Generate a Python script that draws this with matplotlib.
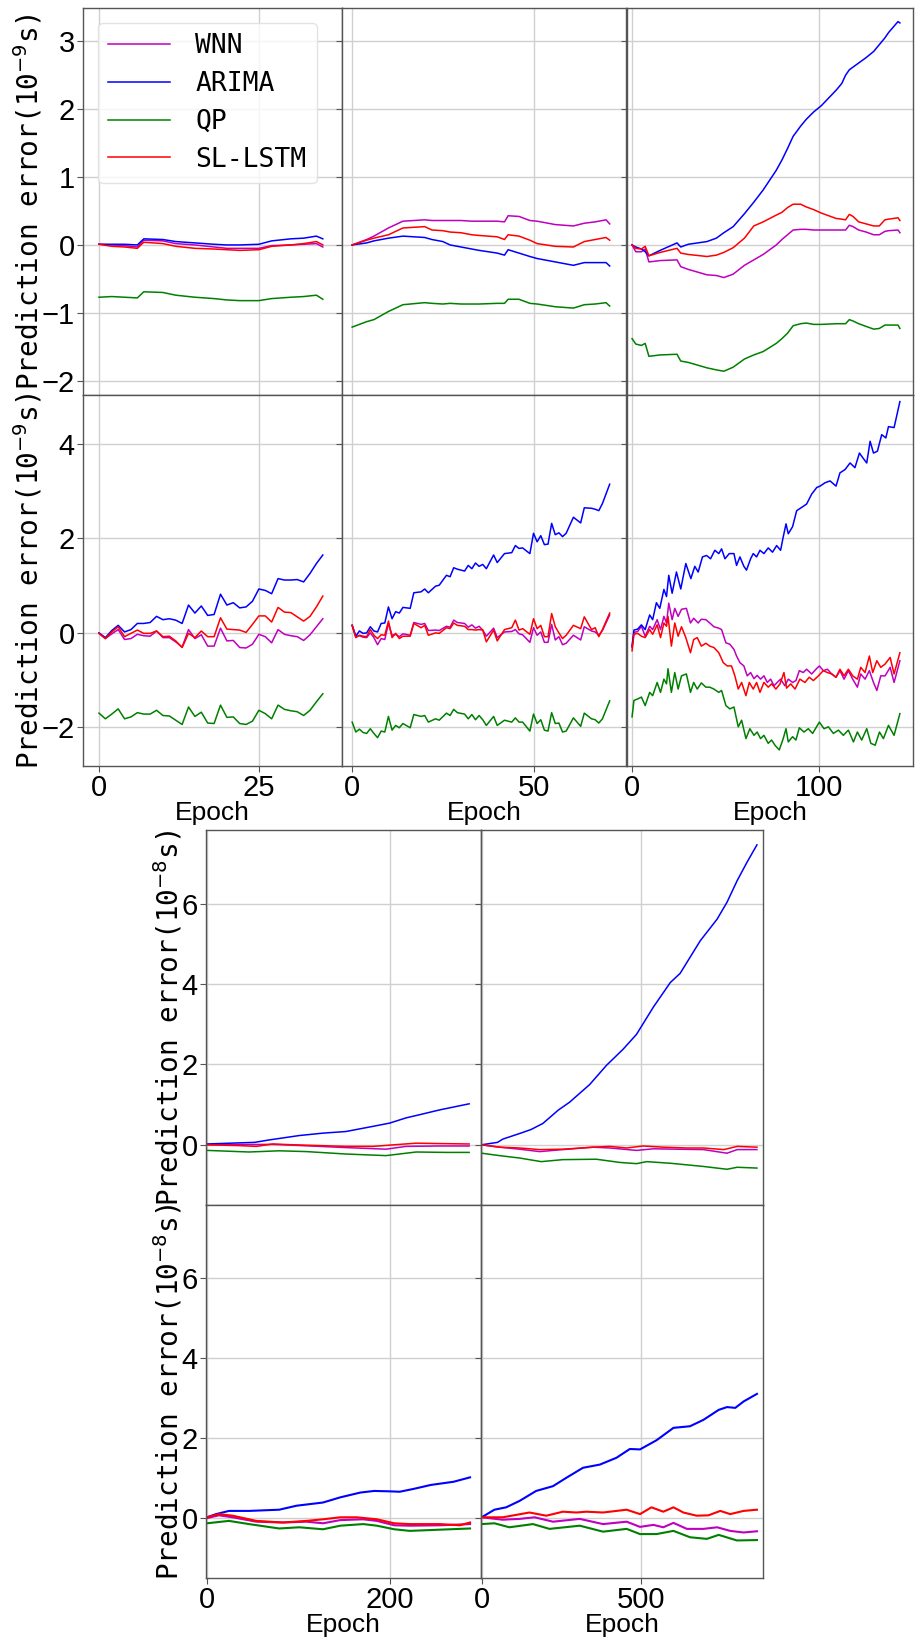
import matplotlib
matplotlib.use('Agg')
import matplotlib.pyplot as plt

plt.rcParams['font.family'] = ['Liberation Sans', 'DejaVu Sans']
plt.rcParams['mathtext.fontset'] = 'dejavusans'

names = ['WNN', 'ARIMA', 'QP', 'SL-LSTM']
colors = ['m', 'b', 'g', 'r']

# ---------- panel A (row 1, col 1) ----------
A_x = [0, 2, 4, 6, 7, 10, 12, 15, 18, 20, 22, 25, 27, 30, 32, 34, 35]
A_wnn = [0.01, 0.0, -0.01, -0.03, 0.07, 0.06, 0.02, 0.0, -0.03, -0.05, -0.05, -0.05, -0.01, 0.0, 0.01, 0.02, -0.03]
A_arima = [0.01, 0.01, 0.01, 0.0, 0.09, 0.08, 0.05, 0.03, 0.01, 0.0, 0.0, 0.01, 0.06, 0.09, 0.1, 0.13, 0.09]
A_qp = [-0.77, -0.76, -0.77, -0.78, -0.69, -0.70, -0.74, -0.77, -0.79, -0.81, -0.82, -0.82, -0.79, -0.77, -0.76, -0.74, -0.80]
A_lstm = [0.01, -0.02, -0.03, -0.05, 0.04, 0.02, -0.02, -0.05, -0.06, -0.07, -0.08, -0.07, -0.02, 0.0, 0.02, 0.05, 0.0]

# ---------- panel B (row 1, col 2) ----------
B_x = [0, 4, 6, 10, 14, 20, 22, 25, 27, 30, 33, 35, 40, 42, 43, 46, 49, 51, 56, 61, 64, 67, 70, 71]
B_wnn = [0, 0.08, 0.13, 0.25, 0.35, 0.37, 0.36, 0.36, 0.36, 0.36, 0.35, 0.35, 0.35, 0.34, 0.43, 0.42, 0.36, 0.35, 0.3, 0.28, 0.32, 0.34, 0.37, 0.31]
B_arima = [0, 0.03, 0.06, 0.1, 0.13, 0.11, 0.08, 0.05, 0.0, -0.03, -0.06, -0.08, -0.12, -0.15, -0.07, -0.12, -0.17, -0.2, -0.25, -0.3, -0.26, -0.26, -0.26, -0.31]
B_qp = [-1.21, -1.13, -1.1, -0.98, -0.88, -0.85, -0.86, -0.87, -0.86, -0.87, -0.87, -0.87, -0.86, -0.86, -0.8, -0.8, -0.86, -0.87, -0.91, -0.93, -0.88, -0.87, -0.85, -0.9]
B_lstm = [0, 0.07, 0.1, 0.15, 0.25, 0.27, 0.22, 0.21, 0.19, 0.18, 0.15, 0.14, 0.12, 0.08, 0.15, 0.13, 0.07, 0.02, -0.02, -0.03, 0.05, 0.08, 0.11, 0.07]

# ---------- panel C (row 1, col 3) ----------
C_x = [0, 2, 5, 7, 9, 15, 24, 26, 30, 40, 45, 49, 54, 60, 65, 70, 77, 80, 83, 86, 90, 93, 97, 101,
       109, 112, 114, 116, 118, 121, 125, 129, 132, 135, 137, 142, 143]
C_wnn = [0.0, -0.1, -0.1, -0.06, -0.25, -0.23, -0.22, -0.32, -0.36, -0.44, -0.45, -0.48, -0.43, -0.3, -0.22, -0.14,
         0.0, 0.08, 0.15, 0.22, 0.23, 0.23, 0.22, 0.22, 0.22, 0.22, 0.22, 0.29, 0.27, 0.22, 0.19, 0.15, 0.15, 0.2, 0.21, 0.22, 0.18]
C_arima = [0.0, -0.03, -0.06, -0.1, -0.16, -0.08, 0.03, -0.03, 0.01, 0.05, 0.1, 0.18, 0.27, 0.46, 0.63, 0.81,
           1.1, 1.25, 1.42, 1.6, 1.75, 1.85, 1.96, 2.05, 2.28, 2.38, 2.5, 2.58, 2.62, 2.68, 2.76, 2.85, 2.95, 3.05, 3.13, 3.29, 3.27]
C_qp = [-1.38, -1.46, -1.48, -1.45, -1.64, -1.62, -1.61, -1.71, -1.73, -1.81, -1.84, -1.86, -1.8, -1.68, -1.62, -1.57,
        -1.45, -1.38, -1.3, -1.19, -1.16, -1.15, -1.17, -1.17, -1.16, -1.16, -1.16, -1.1, -1.12, -1.16, -1.2, -1.24, -1.23, -1.18, -1.18, -1.18, -1.23]
C_lstm = [0.0, -0.05, -0.06, -0.02, -0.16, -0.11, -0.05, -0.12, -0.14, -0.17, -0.15, -0.11, -0.04, 0.1, 0.28, 0.34,
          0.44, 0.48, 0.55, 0.6, 0.6, 0.56, 0.52, 0.47, 0.39, 0.38, 0.37, 0.45, 0.42, 0.34, 0.31, 0.28, 0.28, 0.37, 0.38, 0.4, 0.36]

# ---------- panel D (row 2, col 1) ----------
D_x = list(range(36))
D_wnn = [-0.01, -0.12, -0.02, 0.07, -0.14, -0.12, -0.03, -0.06, -0.07, 0.04, -0.1, -0.1, -0.19, -0.3, 0.07, -0.12, -0.04, -0.28,
         -0.28, 0.1, -0.17, -0.16, -0.31, -0.32, -0.24, -0.03, -0.08, -0.21, 0.07, -0.03, -0.06, -0.08, -0.16, -0.04, 0.13, 0.3]
D_arima = [0.0, -0.1, 0.05, 0.16, 0.02, 0.07, 0.2, 0.2, 0.22, 0.35, 0.28, 0.3, 0.27, 0.2, 0.59, 0.42, 0.57, 0.37,
           0.39, 0.82, 0.59, 0.64, 0.53, 0.55, 0.67, 0.93, 0.9, 0.83, 1.15, 1.12, 1.12, 1.13, 1.08, 1.26, 1.47, 1.65]
D_qp = [-1.7, -1.82, -1.72, -1.61, -1.82, -1.78, -1.69, -1.72, -1.72, -1.64, -1.75, -1.76, -1.85, -1.94, -1.57, -1.77, -1.68, -1.91,
        -1.92, -1.53, -1.79, -1.78, -1.92, -1.94, -1.87, -1.64, -1.71, -1.82, -1.53, -1.62, -1.65, -1.67, -1.75, -1.64, -1.46, -1.29]
D_lstm = [-0.01, -0.12, 0.02, 0.13, -0.08, -0.01, 0.06, -0.01, -0.01, 0.04, -0.08, -0.07, -0.17, -0.31, -0.01, -0.1, 0.04, -0.08,
          -0.08, 0.32, 0.08, 0.07, 0.06, 0.01, 0.18, 0.36, 0.36, 0.23, 0.54, 0.44, 0.43, 0.34, 0.25, 0.35, 0.55, 0.78]

# ---------- panel E (row 2, col 2) ----------
E_x = [0, 1, 2, 3, 4, 5, 6, 7, 8, 9, 10, 11, 12, 13, 14, 16, 17, 19, 20, 21, 23, 24, 26, 27, 28, 29, 31, 32, 33, 34,
       35, 36, 37, 39, 40, 42, 44, 45, 46, 47, 49, 50, 51, 52, 53, 54, 55, 56, 57, 58, 59, 61, 63, 64, 66, 67, 68, 69, 71]
E_wnn = [0.16, -0.08, -0.06, -0.09, -0.1, 0.0, -0.1, -0.25, -0.12, -0.14, 0.2, -0.05, -0.03, -0.08, -0.02, -0.05, 0.22, 0.18,
         0.2, 0.05, 0.06, 0.05, 0.14, 0.12, 0.27, 0.22, 0.2, 0.12, 0.17, 0.1, 0.14, 0.06, -0.07, 0.1, -0.1, 0.02, 0.03, 0.07,
         -0.02, -0.04, -0.2, 0.11, -0.05, 0.02, -0.2, -0.2, 0.18, -0.15, -0.08, -0.25, -0.22, -0.05, -0.15, 0.13, 0.04, 0.02,
         -0.05, 0.05, 0.38]
E_arima = [0.16, -0.07, 0.04, -0.01, 0.0, 0.13, 0.04, 0.02, 0.2, 0.21, 0.55, 0.30, 0.45, 0.42, 0.54, 0.52, 0.85, 0.87,
           0.93, 0.85, 0.99, 1.01, 1.22, 1.19, 1.38, 1.35, 1.31, 1.43, 1.36, 1.48, 1.41, 1.45, 1.36, 1.65, 1.49, 1.68, 1.70,
           1.85, 1.79, 1.80, 1.68, 2.11, 1.93, 2.06, 1.87, 1.88, 2.32, 2.08, 2.12, 2.04, 2.11, 2.45, 2.33, 2.65, 2.64, 2.62,
           2.59, 2.74, 3.15]
E_qp = [-1.89, -2.1, -2.04, -2.11, -2.13, -2.03, -2.13, -2.22, -2.08, -2.1, -1.77, -2.06, -1.96, -2.01, -1.92, -2.01, -1.73,
        -1.77, -1.75, -1.89, -1.82, -1.85, -1.7, -1.75, -1.62, -1.69, -1.72, -1.82, -1.73, -1.84, -1.75, -1.84, -1.96, -1.77,
        -1.96, -1.85, -1.89, -1.8, -1.89, -1.89, -2.08, -1.72, -1.92, -1.84, -2.06, -2.08, -1.69, -1.92, -1.91, -2.1, -2.08,
        -1.8, -1.98, -1.7, -1.82, -1.84, -1.91, -1.82, -1.44]
E_lstm = [0.16, -0.1, -0.05, -0.07, -0.08, 0.07, -0.05, -0.12, -0.04, -0.05, 0.25, -0.1, -0.01, -0.12, -0.07, -0.07, 0.2,
          0.11, 0.16, -0.05, 0.0, -0.01, 0.11, 0.09, 0.21, 0.16, 0.14, 0.07, 0.07, 0.06, 0.07, 0.06, -0.19, 0.06, -0.17, 0.07,
          0.11, 0.27, 0.06, 0.09, -0.03, 0.3, 0.09, 0.16, -0.08, -0.08, 0.41, 0.13, 0.0, -0.12, -0.05, 0.16, 0.09, 0.34, 0.07,
          0.11, -0.08, 0.07, 0.42]

# ---------- panel F (row 2, col 3) ----------
F_x_arima = [0, 1, 3, 5, 7, 9.4, 11, 13, 14.8, 17, 18.4, 19.6, 21.4, 23.7, 26, 28.7, 31.4, 33.5, 35.3, 37.6, 39.8, 41.9,
             44.2, 46.3, 47.8, 49.6, 51.9, 54.4, 55.8, 57.6, 59.7, 61.1, 63.3, 64.7, 66.5, 68.3, 70.4, 72.7, 75, 77.2, 79.3,
             80.7, 82.2, 83.4, 85.7, 87.9, 90.6, 93.2, 95.9, 98.6, 100.4, 103, 105.7, 108.9, 111, 113.7, 116.4, 119, 121.4,
             123.2, 125.3, 127.1, 128.9, 131, 133.3, 135.5, 136.9, 139.9, 143]
F_arima = [-0.28, 0.06, 0.08, 0.17, 0.07, 0.38, 0.28, 0.64, 0.52, 0.92, 0.77, 1.22, 0.84, 1.29, 0.93, 1.47, 1.15, 1.41, 1.29,
           1.61, 1.64, 1.57, 1.75, 1.68, 1.78, 1.57, 1.68, 1.68, 1.43, 1.61, 1.41, 1.33, 1.57, 1.68, 1.61, 1.75, 1.68, 1.8,
           1.71, 1.85, 1.75, 2.03, 2.31, 2.1, 2.25, 2.59, 2.66, 2.73, 2.94, 3.08, 3.11, 3.18, 3.22, 3.11, 3.39, 3.46, 3.6,
           3.5, 3.81, 3.71, 3.6, 4.06, 3.81, 3.85, 4.2, 4.13, 4.37, 4.35, 4.9]
F_x_wnn = [0, 1, 3, 5, 7, 9.4, 11, 13.4, 15.2, 17, 18.4, 19.6, 21.4, 22.8, 24.6, 26.4, 29, 31.2, 32.9, 35.3, 37, 39.4, 41.5,
           43.7, 46.3, 47.8, 50.1, 52.2, 54.4, 55.8, 57.6, 59.7, 61.5, 63.3, 65.1, 66.8, 68.6, 70.4, 72.2, 74, 75.8, 77.5,
           79.3, 81.6, 83.4, 85.7, 87.5, 89.3, 91.4, 93.2, 95.9, 98.2, 100, 102.1, 104.3, 106.6, 108.9, 111, 113.2, 115.5,
           117.8, 120.3, 122.1, 124.4, 126.7, 128.9, 130.7, 132.8, 135.1, 137.8, 139.9, 143]
F_wnn = [-0.31, 0.01, 0.03, 0.14, -0.07, 0.14, 0.07, 0.28, 0.07, 0.35, 0.21, 0.63, 0.28, 0.52, 0.35, 0.5, 0.52, 0.21, 0.31,
         0.21, 0.29, 0.28, 0.21, 0.13, 0.1, 0.07, -0.21, -0.24, -0.35, -0.49, -0.63, -0.7, -0.91, -0.84, -0.97, -0.9, -0.98,
         -0.91, -1.05, -0.98, -1.12, -1.05, -0.98, -1.12, -0.98, -1.05, -1.01, -0.8, -0.84, -0.77, -0.87, -0.77, -0.7, -0.8,
         -0.77, -0.87, -0.94, -0.8, -0.98, -0.8, -0.98, -1.15, -0.87, -0.98, -0.8, -1.05, -1.22, -0.91, -0.91, -0.73, -1.05,
         -0.59]
F_x_lstm = [0, 1, 3, 5, 7, 9.4, 11, 13.4, 15.2, 17, 18.4, 19.2, 21, 22.8, 24.6, 26.4, 28.7, 31.2, 32.9, 34.8, 37, 39.4,
            41.5, 43.7, 46.3, 48.7, 50.8, 53.1, 54.9, 56.7, 58.5, 60.8, 62.6, 64.7, 66.5, 68.3, 70.4, 72.7, 74.5, 76.8, 79,
            81.1, 82.5, 84.7, 87, 89.6, 92.3, 94.6, 96.8, 99.5, 102.1, 104.3, 106.6, 108.9, 111, 113.2, 115.5, 117.8, 120.3,
            122.1, 124.4, 126.7, 128.5, 130.7, 132.8, 135.1, 137.8, 139.9, 143]
F_lstm = [-0.38, -0.03, -0.01, -0.07, -0.1, 0.07, -0.03, 0.17, -0.1, 0.21, 0.14, 0.35, -0.28, 0.21, -0.07, 0.13, -0.1,
          -0.42, -0.14, -0.1, -0.28, -0.22, -0.28, -0.31, -0.42, -0.63, -0.7, -0.7, -0.91, -1.19, -1.05, -1.33, -1.05, -1.19,
          -1.05, -1.26, -1.05, -1.15, -1.08, -1.19, -1.08, -0.84, -1.17, -1.08, -1.19, -0.98, -1.05, -0.94, -1.01, -0.91,
          -0.8, -0.84, -0.87, -0.94, -0.77, -0.91, -0.77, -0.91, -0.98, -0.73, -0.84, -0.49, -0.84, -0.59, -0.73, -0.66,
          -0.52, -0.87, -0.42]
F_x_qp = [0, 1, 3, 5, 7, 9.4, 11, 13.4, 15.2, 17, 18.4, 19.2, 21, 22.8, 24.6, 26.4, 29, 31.2, 32.9, 34.8, 37, 39.4, 41.5,
          43.7, 46.3, 47.8, 50.1, 52.2, 54.4, 56.7, 58.5, 60.8, 62.9, 65.1, 66.8, 68.6, 70.4, 72.7, 74.5, 76.3, 78.6, 80.7,
          82.2, 83.4, 85.7, 87.5, 89.3, 91.8, 94.1, 96.4, 100, 102.5, 104.8, 107.5, 110.2, 112.8, 115.5, 118.2, 120.3,
          122.6, 125.3, 127.5, 129.8, 132.1, 134.2, 136.9, 139.9, 143]
F_qp = [-1.78, -1.43, -1.4, -1.36, -1.54, -1.26, -1.33, -1.05, -1.26, -0.98, -1.08, -0.76, -1.26, -0.84, -1.19, -0.91,
        -0.87, -1.26, -1.05, -1.19, -1.06, -1.15, -1.15, -1.19, -1.26, -1.22, -1.54, -1.61, -1.57, -1.99, -1.85, -2.24,
        -2.03, -2.17, -2.1, -2.24, -2.17, -2.34, -2.27, -2.38, -2.48, -2.24, -2.03, -2.31, -2.2, -2.27, -2.01, -2.1, -2.03,
        -2.13, -1.89, -2.03, -1.99, -2.13, -2.06, -2.17, -2.06, -2.31, -2.1, -2.27, -2.03, -2.34, -2.38, -2.1, -2.24,
        -1.96, -2.17, -1.71]

# ---------- panel G (row 3, col 1) ----------
G_x_wnn = [0, 72, 94, 152, 196, 218, 255, 287]
G_wnn = [0.0, 0.01, -0.01, -0.07, -0.11, -0.04, -0.03, -0.03]
G_x_arima = [0, 52, 68, 101, 127, 152, 182, 200, 218, 233, 255, 287]
G_arima = [0.02, 0.06, 0.12, 0.23, 0.29, 0.33, 0.46, 0.54, 0.67, 0.75, 0.87, 1.02]
G_x_qp = [0, 46, 79, 109, 152, 196, 229, 262, 287]
G_qp = [-0.14, -0.18, -0.15, -0.17, -0.23, -0.27, -0.18, -0.19, -0.19]
G_x_lstm = [0, 35, 54, 72, 94, 152, 182, 205, 229, 255, 287]
G_lstm = [0.0, -0.02, -0.04, 0.02, 0.0, -0.04, -0.04, 0.0, 0.04, 0.03, 0.02]

# ---------- panel H (row 3, col 2) ----------
H_x_wnn = [0, 56, 119, 182, 255, 350, 402, 486, 539, 612, 696, 770, 802, 864]
H_wnn = [0, -0.06, -0.11, -0.17, -0.12, -0.06, -0.08, -0.14, -0.1, -0.11, -0.12, -0.21, -0.12, -0.12]
H_x_arima = [0, 50, 66, 119, 155, 192, 240, 276, 339, 392, 444, 486, 539, 592, 623, 686, 739, 770, 802, 833, 864]
H_arima = [0, 0.06, 0.14, 0.28, 0.38, 0.53, 0.86, 1.06, 1.5, 1.98, 2.38, 2.75, 3.43, 4.04, 4.27, 5.08, 5.62, 6.04, 6.58,
           7.04, 7.47]
H_x_qp = [0, 56, 119, 187, 255, 360, 434, 486, 518, 592, 644, 696, 770, 802, 864]
H_qp = [-0.21, -0.27, -0.33, -0.42, -0.37, -0.36, -0.44, -0.47, -0.42, -0.46, -0.5, -0.54, -0.61, -0.56, -0.58]
H_x_lstm = [0, 56, 119, 182, 255, 350, 402, 455, 507, 570, 644, 696, 760, 802, 864]
H_lstm = [0, -0.06, -0.08, -0.12, -0.11, -0.06, -0.04, -0.08, -0.03, -0.06, -0.08, -0.08, -0.12, -0.04, -0.06]

# ---------- panel I (row 4, col 1) ----------
I_x_wnn = [0, 13, 28, 54, 83, 109, 127, 146, 171, 186, 205, 222, 255, 288]
I_wnn = [0.0, 0.07, 0.02, -0.09, -0.11, -0.09, -0.13, -0.05, -0.03, -0.07, -0.18, -0.19, -0.18, -0.15]
I_x_arima = [0, 10, 24, 46, 79, 98, 127, 146, 168, 183, 200, 211, 226, 245, 270, 288]
I_arima = [0.02, 0.1, 0.18, 0.18, 0.21, 0.31, 0.39, 0.52, 0.64, 0.68, 0.67, 0.66, 0.73, 0.83, 0.91, 1.02]
I_x_qp = [0, 24, 46, 79, 101, 127, 146, 171, 186, 205, 222, 255, 288]
I_qp = [-0.13, -0.07, -0.15, -0.26, -0.23, -0.28, -0.19, -0.15, -0.19, -0.28, -0.32, -0.29, -0.26]
I_x_lstm = [0, 13, 28, 54, 83, 109, 127, 146, 164, 186, 205, 222, 255, 277, 288]
I_lstm = [0.02, 0.1, 0.06, -0.07, -0.11, -0.07, -0.03, 0.02, 0.02, -0.03, -0.13, -0.15, -0.15, -0.18, -0.11]

# ---------- panel J (row 4, col 2) ----------
J_x_wnn = [0, 66, 119, 166, 224, 308, 381, 455, 497, 539, 570, 602, 644, 696, 739, 780, 822, 864]
J_wnn = [0.02, -0.04, -0.02, 0.02, -0.09, -0.02, -0.15, -0.09, -0.22, -0.17, -0.23, -0.12, -0.27, -0.27, -0.23, -0.32,
         -0.36, -0.33]
J_x_arima = [0, 40, 77, 119, 171, 224, 266, 318, 371, 423, 465, 497, 549, 602, 654, 696, 744, 770, 796, 822, 864]
J_arima = [0.02, 0.21, 0.27, 0.43, 0.68, 0.80, 1.01, 1.26, 1.34, 1.51, 1.73, 1.72, 1.95, 2.26, 2.3, 2.46, 2.71, 2.78,
           2.76, 2.92, 3.11]
J_x_qp = [0, 40, 87, 161, 213, 308, 381, 455, 497, 549, 602, 654, 707, 744, 801, 864]
J_qp = [-0.15, -0.13, -0.23, -0.15, -0.27, -0.19, -0.34, -0.27, -0.4, -0.4, -0.32, -0.48, -0.52, -0.42, -0.56, -0.55]
J_x_lstm = [0, 66, 150, 203, 255, 297, 329, 381, 455, 497, 533, 570, 602, 633, 675, 712, 749, 780, 822, 864]
J_lstm = [0.02, 0.02, 0.14, 0.06, 0.16, 0.14, 0.16, 0.14, 0.21, 0.1, 0.27, 0.16, 0.27, 0.14, 0.06, 0.07, 0.18, 0.1, 0.18,
          0.21]

W, H = 917, 1639
fig = plt.figure(figsize=(W / 100, H / 100), dpi=100)
TICK_FONT = ['Liberation Sans Narrow', 'Liberation Sans', 'DejaVu Sans']


def add_axes(x0, y0, x1, y1):
    # pixel box (top-left origin) -> figure fraction
    return fig.add_axes([x0 / W, 1 - y1 / H, (x1 - x0) / W, (y1 - y0) / H])


def style(ax, xlim, ylim, xticks, yticks, left, bottom, unit):
    ax.set_xlim(*xlim)
    ax.set_ylim(*ylim)
    ax.set_xticks(xticks)
    ax.set_yticks(yticks)
    ax.grid(True, color='#d0d0d0', lw=1.0)
    for s in ax.spines.values():
        s.set_color('#555555')
        s.set_linewidth(1.0)
    ax.tick_params(labelsize=21, length=4, color='#555555', pad=2,
                   labelleft=left, labelbottom=bottom)
    for lab in ax.get_xticklabels() + ax.get_yticklabels():
        lab.set_family(TICK_FONT)
    if left:
        ax.set_ylabel('Prediction error(10$^{-%d}$s)' % unit, family='DejaVu Sans Mono', fontsize=20, labelpad=-2)
    if bottom:
        ax.set_xlabel('Epoch', fontsize=19, labelpad=-1)


def draw(ax, xs, ys, lw):
    for x, y, c, n in zip(xs, ys, colors, names):
        ax.plot(x, y, color=c, lw=lw, label=n)


# top block
boxes_top = [(83, 342), (342, 626), (627, 913)]
rows_top = [(8, 395), (395, 766)]
xl_top = [(-2.5, 38), (-2.8, 75.5), (-2.7, 150)]
xt_top = [[0, 25], [0, 50], [0, 100]]

panels_r1 = [
    ([A_x] * 4, [A_wnn, A_arima, A_qp, A_lstm]),
    ([B_x] * 4, [B_wnn, B_arima, B_qp, B_lstm]),
    ([C_x] * 4, [C_wnn, C_arima, C_qp, C_lstm]),
]
panels_r2 = [
    ([D_x] * 4, [D_wnn, D_arima, D_qp, D_lstm]),
    ([E_x] * 4, [E_wnn, E_arima, E_qp, E_lstm]),
    ([F_x_wnn, F_x_arima, F_x_qp, F_x_lstm], [F_wnn, F_arima, F_qp, F_lstm]),
]

for r, (panels, ylim, yt) in enumerate([(panels_r1, (-2.21, 3.49), [-2, -1, 0, 1, 2, 3]),
                                        (panels_r2, (-2.82, 5.04), [-2, 0, 2, 4])]):
    for c, (xs, ys) in enumerate(panels):
        ax = add_axes(boxes_top[c][0], rows_top[r][0], boxes_top[c][1], rows_top[r][1])
        draw(ax, xs, ys, 1.1)
        style(ax, xl_top[c], ylim, xt_top[c], yt, c == 0, r == 1, 9)
        if r == 0 and c == 0:
            ax.legend(loc='upper left', prop={'family': 'DejaVu Sans Mono', 'size': 19},
                      handlelength=2.35, handletextpad=0.95, labelspacing=0.45,
                      borderaxespad=0.55, framealpha=0.8, edgecolor='#dddddd')

# bottom block
boxes_bot = [(206, 481), (481, 763)]
rows_bot = [(830, 1205), (1205, 1578)]
xl_bot = [(-1.1, 300), (-2, 883)]
xt_bot = [[0, 200], [0, 500]]

panels_r3 = [
    ([G_x_wnn, G_x_arima, G_x_qp, G_x_lstm], [G_wnn, G_arima, G_qp, G_lstm]),
    ([H_x_wnn, H_x_arima, H_x_qp, H_x_lstm], [H_wnn, H_arima, H_qp, H_lstm]),
]
panels_r4 = [
    ([I_x_wnn, I_x_arima, I_x_qp, I_x_lstm], [I_wnn, I_arima, I_qp, I_lstm]),
    ([J_x_wnn, J_x_arima, J_x_qp, J_x_lstm], [J_wnn, J_arima, J_qp, J_lstm]),
]

for r, panels in enumerate([panels_r3, panels_r4]):
    lw = 1.1 if r == 0 else 1.5
    for c, (xs, ys) in enumerate(panels):
        ax = add_axes(boxes_bot[c][0], rows_bot[r][0], boxes_bot[c][1], rows_bot[r][1])
        draw(ax, xs, ys, lw)
        style(ax, xl_bot[c], (-1.5, 7.84), xt_bot[c], [0, 2, 4, 6], c == 0, r == 1, 8)

fig.savefig('out.png', dpi=100)
